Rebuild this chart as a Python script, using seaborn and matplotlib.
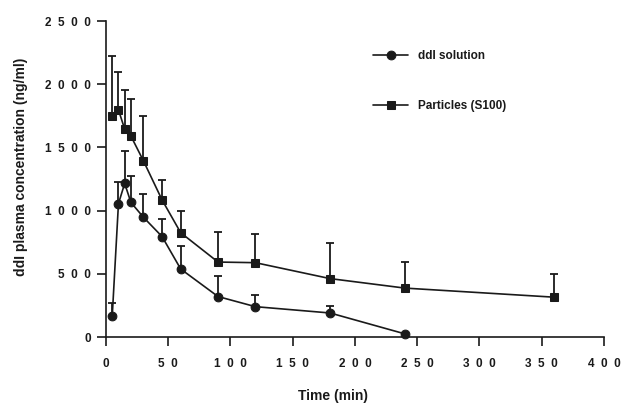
import matplotlib
matplotlib.use('Agg')
import matplotlib.pyplot as plt
import seaborn as sns
import pandas as pd
from matplotlib.ticker import FuncFormatter

sns.set_style('ticks')
plt.rcParams['font.family'] = ['Liberation Sans', 'DejaVu Sans']
plt.rcParams['font.weight'] = 'bold'

# time points (min)
time_sol = [5, 10, 15, 20, 30, 45, 60, 90, 120, 180, 240]
time_part = [5, 10, 15, 20, 30, 45, 60, 90, 120, 180, 240, 360]

# mean plasma concentration (ng/ml) and SD
sol_mean = [165, 1055, 1215, 1065, 948, 795, 538, 320, 240, 190, 25]
sol_sd = [105, 175, 257, 210, 184, 139, 184, 162, 92, 55, 0]
part_mean = [1750, 1797, 1645, 1590, 1395, 1085, 825, 593, 588, 462, 387, 315]
part_sd = [470, 303, 310, 296, 351, 160, 170, 235, 224, 280, 208, 182]

ink = '#1a1a1a'

df_sol = pd.DataFrame({'time': time_sol, 'conc': sol_mean, 'sd': sol_sd})
df_part = pd.DataFrame({'time': time_part, 'conc': part_mean, 'sd': part_sd})

fig = plt.figure(figsize=(6.21, 4.05), dpi=100)
ax = fig.add_axes([0.1707, 0.1679, 0.8019, 0.7802])

for d in (df_sol, df_part):
    ax.errorbar(d['time'], d['conc'], yerr=[[0] * len(d), d['sd']], fmt='none',
                ecolor=ink, elinewidth=1.3, capsize=3, capthick=1.3, zorder=2)

sns.lineplot(data=df_sol, x='time', y='conc', ax=ax, color=ink, marker='o',
             markersize=6.3, markeredgecolor=ink, linewidth=1.2,
             label='ddI solution', zorder=3, clip_on=False)
sns.lineplot(data=df_part, x='time', y='conc', ax=ax, color=ink, marker='s',
             markersize=6.3, markeredgecolor=ink, linewidth=1.2,
             label='Particles (S100)', zorder=3, clip_on=False)

ax.set_xlim(0, 400)
ax.set_ylim(0, 2500)
ax.set_xticks(range(0, 401, 50))
ax.set_yticks(range(0, 2501, 500))
spaced = FuncFormatter(lambda v, p: '  '.join(str(int(v))))
ax.xaxis.set_major_formatter(spaced)
ax.yaxis.set_major_formatter(spaced)
ax.tick_params(axis='both', direction='out', length=6.5, width=1.2,
               colors=ink, labelsize=8.5)
ax.tick_params(axis='x', pad=8.5)
ax.tick_params(axis='y', pad=4.5)
for lab in ax.get_xticklabels() + ax.get_yticklabels():
    lab.set_fontweight('bold')
for s in ['left', 'bottom']:
    ax.spines[s].set_linewidth(1.2)
    ax.spines[s].set_color(ink)
sns.despine(ax=ax)

ax.set_xlabel('Time (min)', fontsize=10, fontweight='bold', color=ink, va='center')
ax.set_ylabel('ddI plasma concentration (ng/ml)', fontsize=10, fontweight='bold',
              color=ink, va='center')
ax.xaxis.set_label_coords(0.456, -0.187)
ax.yaxis.set_label_coords(-0.171, 0.54)

leg = ax.legend(loc='center left', bbox_to_anchor=(0.536, 0.81), frameon=False,
                fontsize=8.5, handlelength=3.0, handletextpad=0.85,
                labelspacing=3.2, borderpad=0, borderaxespad=0)
for t in leg.get_texts():
    t.set_fontweight('bold')
    t.set_color(ink)

fig.savefig('out.png', dpi=100)
